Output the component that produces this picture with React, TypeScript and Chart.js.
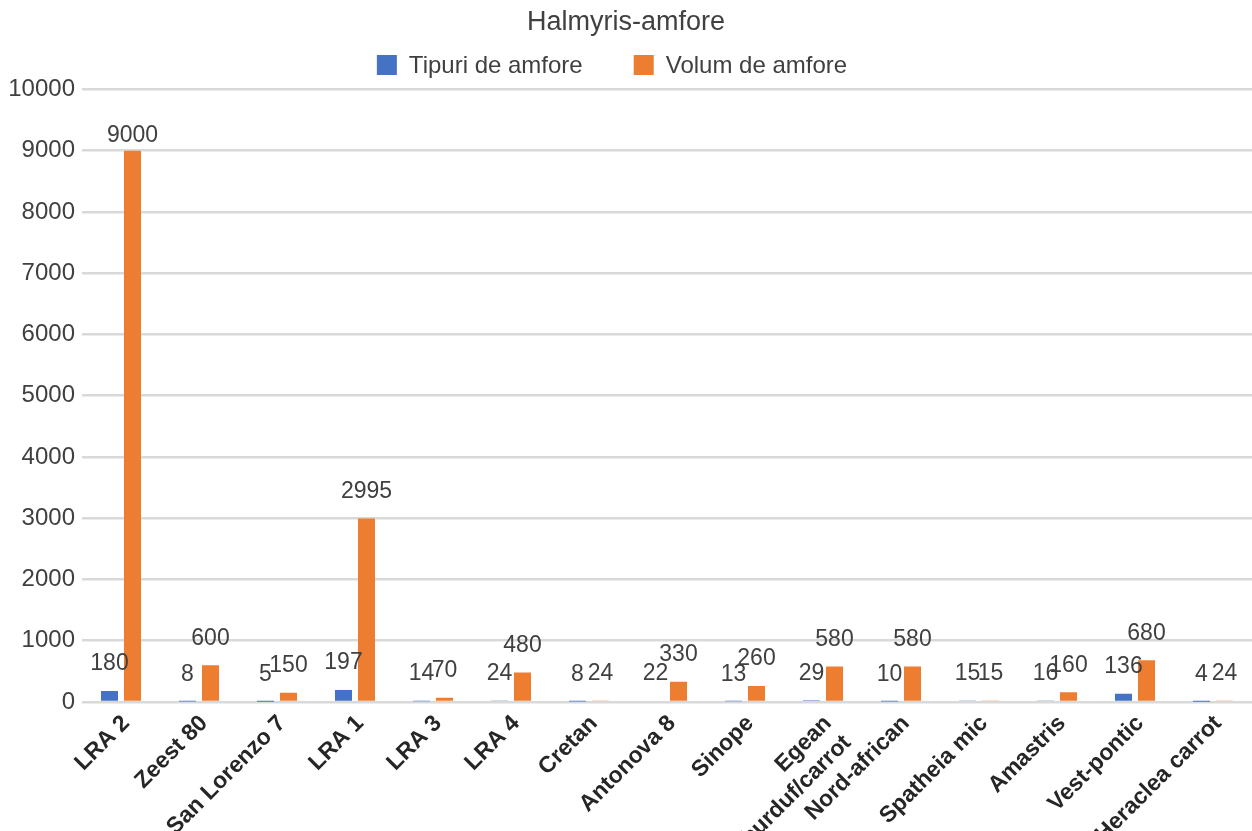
import React, { useEffect, useRef } from "react";
import { Chart, registerables } from "chart.js";

Chart.register(...registerables);

const categories: (string | string[])[] = [
  "LRA 2",
  "Zeest 80",
  "San Lorenzo 7",
  "LRA 1",
  "LRA 3",
  "LRA 4",
  "Cretan",
  "Antonova 8",
  "Sinope",
  ["Egean", "burduf/carrot"],
  "Nord-african",
  "Spatheia mic",
  "Amastris",
  "Vest-pontic",
  "Heraclea carrot",
];
const tipuriDeAmfore = [180, 8, 5, 197, 14, 24, 8, 22, 13, 29, 10, 15, 16, 136, 4];
const volumDeAmfore = [9000, 600, 150, 2995, 70, 480, 24, 330, 260, 580, 580, 15, 160, 680, 24];
const seriesNames = ["Tipuri de amfore", "Volum de amfore"];
const chartTitle = "Halmyris-amfore";

const FONT = "'Liberation Sans', Arial, sans-serif";
const TEXT = "#404040";
const BLUE = "#4472C4";
const ORANGE = "#ED7D31";

const valueLabels = {
  id: "valueLabels",
  afterDatasetsDraw(chart: any) {
    const ctx = chart.ctx;
    ctx.save();
    ctx.font = `23px ${FONT}`;
    ctx.fillStyle = TEXT;
    ctx.textAlign = "center";
    ctx.textBaseline = "middle";
    chart.data.datasets.forEach((ds: any, i: number) => {
      const meta = chart.getDatasetMeta(i);
      meta.data.forEach((bar: any, j: number) => {
        const y = Math.max(bar.y - 27, chart.chartArea.top + 46);
        ctx.fillText(String(ds.data[j]), bar.x, y);
      });
    });
    ctx.restore();
  },
};

const customLegend = {
  id: "customLegend",
  afterDraw(chart: any) {
    const ctx = chart.ctx;
    ctx.save();
    ctx.font = `24px ${FONT}`;
    ctx.textBaseline = "middle";
    const box = 20;
    const gap = 12;
    const spacing = 51;
    const items = chart.data.datasets.map((ds: any) => ({
      label: ds.label,
      color: ds.backgroundColor,
      w: ctx.measureText(ds.label).width,
    }));
    const total =
      items.reduce((s: number, it: any) => s + box + gap + it.w, 0) + spacing * (items.length - 1);
    let x = chart.width / 2 - 14 - total / 2;
    const y = 65;
    items.forEach((it: any) => {
      ctx.fillStyle = it.color;
      ctx.fillRect(x, y - box / 2, box, box);
      x += box + gap;
      ctx.fillStyle = TEXT;
      ctx.textAlign = "left";
      ctx.fillText(it.label, x, y + 1);
      x += it.w + spacing;
    });
    ctx.restore();
  },
};

export default function App() {
  const canvasRef = useRef<HTMLCanvasElement | null>(null);

  useEffect(() => {
    document.body.style.margin = "0";
    const canvas = canvasRef.current;
    if (!canvas) return;
    const chart = new Chart(canvas, {
      type: "bar",
      data: {
        labels: categories as any,
        datasets: [
          {
            label: seriesNames[0],
            data: tipuriDeAmfore,
            backgroundColor: BLUE,
            categoryPercentage: 0.59,
            barPercentage: 0.74,
          },
          {
            label: seriesNames[1],
            data: volumDeAmfore,
            backgroundColor: ORANGE,
            categoryPercentage: 0.59,
            barPercentage: 0.74,
          },
        ],
      },
      options: {
        animation: false,
        responsive: true,
        maintainAspectRatio: false,
        layout: { padding: { left: 0, right: 0, top: 0, bottom: 0 } },
        plugins: {
          legend: { display: false },
          tooltip: { enabled: false },
          title: {
            display: true,
            text: chartTitle,
            color: TEXT,
            font: { family: FONT, size: 27, weight: "normal" },
            padding: { top: 6, bottom: 51 },
          },
        },
        scales: {
          x: {
            grid: { display: false },
            border: { display: false },
            ticks: {
              color: "#262626",
              font: { family: FONT, size: 23, weight: "bold" },
              minRotation: 45,
              maxRotation: 45,
              autoSkip: false,
              labelOffset: 5,
              padding: 0,
            },
            afterFit: (s: any) => {
              s.height = 129;
            },
          },
          y: {
            min: 0,
            max: 10000,
            ticks: {
              stepSize: 1000,
              color: TEXT,
              font: { family: FONT, size: 24 },
              padding: 7,
              callback: (v: any) => String(v),
            },
            grid: { color: "#d9d9d9", lineWidth: 2.5, drawTicks: false },
            border: { display: false },
            afterFit: (s: any) => {
              s.width = 82;
            },
          },
        },
      },
      plugins: [valueLabels, customLegend],
    });
    return () => chart.destroy();
  }, []);

  return (
    <div style={{ position: "relative", width: "1252px", height: "831px" }}>
      <canvas ref={canvasRef} />
    </div>
  );
}
